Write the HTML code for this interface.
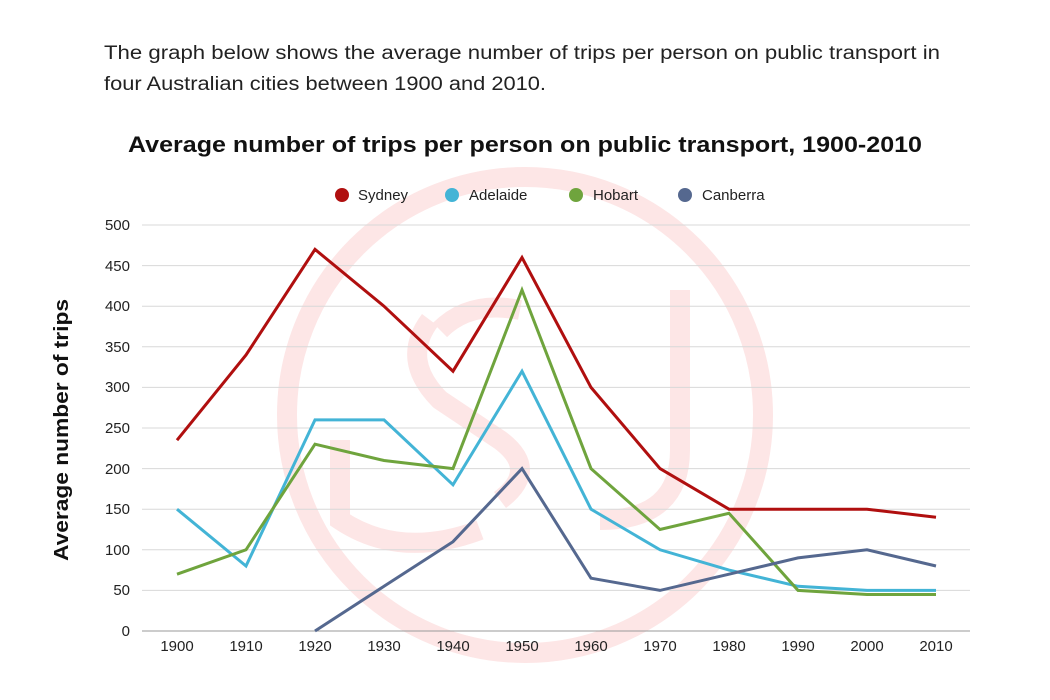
<!DOCTYPE html><html><head><style>body{margin:0;background:#fff;}svg{display:block;font-family:"Liberation Sans",sans-serif;}</style></head><body>
<svg width="1050" height="700" viewBox="0 0 1050 700">
<g fill="none" stroke="#fde6e6" stroke-width="20">
<circle cx="525" cy="415" r="238"/>
<path d="M430 320 Q400 360 440 400 L500 440 Q540 470 500 500"/>
<path d="M340 440 L340 520 Q400 560 480 530"/>
<path d="M680 290 L680 450 Q680 520 600 520"/>
<path d="M440 330 Q470 300 520 310"/>
</g>
<text x="104" y="59" font-size="19" fill="#222" textLength="836" lengthAdjust="spacingAndGlyphs">The graph below shows the average number of trips per person on public transport in</text>
<text x="104" y="90" font-size="19" fill="#222" textLength="442" lengthAdjust="spacingAndGlyphs">four Australian cities between 1900 and 2010.</text>
<text x="128" y="152" font-size="22" font-weight="bold" fill="#111" textLength="794" lengthAdjust="spacingAndGlyphs">Average number of trips per person on public transport, 1900-2010</text>
<g font-size="15" fill="#222">
<circle cx="342" cy="195" r="7" fill="#b00f0f"/><text x="358" y="200">Sydney</text>
<circle cx="452" cy="195" r="7" fill="#43b4d6"/><text x="469" y="200">Adelaide</text>
<circle cx="576" cy="195" r="7" fill="#6fa43d"/><text x="593" y="200">Hobart</text>
<circle cx="685" cy="195" r="7" fill="#55688f"/><text x="702" y="200">Canberra</text>
</g>
<g stroke="#d8d8d8" stroke-width="1">
<line x1="142" x2="970" y1="225" y2="225"/><line x1="142" x2="970" y1="265.6" y2="265.6"/><line x1="142" x2="970" y1="306.2" y2="306.2"/><line x1="142" x2="970" y1="346.8" y2="346.8"/><line x1="142" x2="970" y1="387.4" y2="387.4"/><line x1="142" x2="970" y1="428" y2="428"/><line x1="142" x2="970" y1="468.6" y2="468.6"/><line x1="142" x2="970" y1="509.2" y2="509.2"/><line x1="142" x2="970" y1="549.8" y2="549.8"/><line x1="142" x2="970" y1="590.4" y2="590.4"/>
</g>
<line x1="142" x2="970" y1="631" y2="631" stroke="#999"/>
<g font-size="15" fill="#222" text-anchor="end">
<text x="130" y="230">500</text><text x="130" y="271">450</text><text x="130" y="311">400</text><text x="130" y="352">350</text><text x="130" y="392">300</text><text x="130" y="433">250</text><text x="130" y="474">200</text><text x="130" y="514">150</text><text x="130" y="555">100</text><text x="130" y="595">50</text><text x="130" y="636">0</text>
</g>
<g font-size="15" fill="#222" text-anchor="middle">
<text x="177" y="651">1900</text><text x="246" y="651">1910</text><text x="315" y="651">1920</text><text x="384" y="651">1930</text><text x="453" y="651">1940</text><text x="522" y="651">1950</text><text x="591" y="651">1960</text><text x="660" y="651">1970</text><text x="729" y="651">1980</text><text x="798" y="651">1990</text><text x="867" y="651">2000</text><text x="936" y="651">2010</text>
</g>
<text transform="translate(68,561) rotate(-90)" font-size="20" font-weight="bold" fill="#111" textLength="262" lengthAdjust="spacingAndGlyphs">Average number of trips</text>
<g fill="none" stroke-width="3" stroke-linejoin="miter">
<polyline stroke="#b00f0f" points="177,440.2 246,355 315,249.4 384,306.2 453,371.2 522,257.5 591,387.4 660,468.6 729,509.2 798,509.2 867,509.2 936,517.3"/>
<polyline stroke="#43b4d6" points="177,509.2 246,566 315,419.9 384,419.9 453,484.8 522,371.2 591,509.2 660,549.8 729,570.1 798,586.3 867,590.4 936,590.4"/>
<polyline stroke="#6fa43d" points="177,574.2 246,549.8 315,444.2 384,460.5 453,468.6 522,290 591,468.6 660,529.5 729,513.3 798,590.4 867,594.5 936,594.5"/>
<polyline stroke="#55688f" points="315,631 384,586.3 453,541.7 522,468.6 591,578.2 660,590.4 729,574.2 798,557.9 867,549.8 936,566"/>
</g>
</svg>
</body></html>
